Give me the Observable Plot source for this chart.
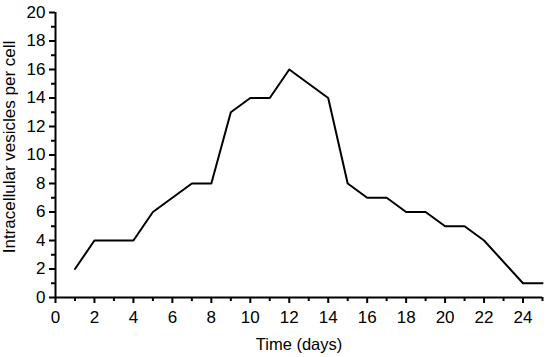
<!DOCTYPE html>
<html>
<head>
<meta charset="utf-8">
<script src="https://cdn.jsdelivr.net/npm/d3@7"></script>
<script src="https://cdn.jsdelivr.net/npm/@observablehq/plot@0.6"></script>
<style>
  html, body { margin: 0; padding: 0; background: #fff; }
  svg { font-family: "Liberation Sans", Arial, sans-serif; }
</style>
</head>
<body>
<div id="chart"></div>
<script>
const days = [1, 2, 4, 5, 7, 8, 9, 10, 11, 12, 14, 15, 16, 17, 18, 19, 20, 21, 22, 24, 25];
const vesicles = [2, 4, 4, 6, 8, 8, 13, 14, 14, 16, 14, 8, 7, 7, 6, 6, 5, 5, 4, 1, 1];
const xMajorTicks = [0, 2, 4, 6, 8, 10, 12, 14, 16, 18, 20, 22, 24];
const xMinorTicks = [1, 3, 5, 7, 9, 11, 13, 15, 17, 19, 21, 23, 25];
const yMajorTicks = [0, 2, 4, 6, 8, 10, 12, 14, 16, 18, 20];
const yMinorTicks = [1, 3, 5, 7, 9, 11, 13, 15, 17, 19];
const xTitle = "Time (days)";
const yTitle = "Intracellular vesicles per cell";

const data = days.map((d, i) => ({day: d, value: vesicles[i]}));

const chart = Plot.plot({
  width: 550,
  height: 357,
  marginLeft: 55,
  marginRight: 8,
  marginTop: 12,
  marginBottom: 60,
  style: {fontSize: "17px", fontFamily: "'Liberation Sans', Arial, sans-serif", color: "#000", background: "#fff"},
  x: {domain: [0, 25]},
  y: {domain: [0, 20]},
  marks: [
    Plot.axisX({ticks: xMajorTicks, tickSize: 6, tickPadding: 7, strokeWidth: 2, label: null}),
    Plot.axisX({ticks: xMinorTicks, tickSize: 4, strokeWidth: 2, text: null, label: null}),
    Plot.axisY({ticks: yMajorTicks, tickSize: 6, tickPadding: 4, strokeWidth: 2, label: null}),
    Plot.axisY({ticks: yMinorTicks, tickSize: 4, strokeWidth: 2, text: null, label: null}),
    Plot.ruleY([0], {strokeWidth: 2}),
    Plot.ruleX([0], {strokeWidth: 2}),
    Plot.line(data, {x: "day", y: "value", stroke: "#000", strokeWidth: 2}),
    Plot.text([xTitle], {frameAnchor: "bottom", text: d => d, lineAnchor: "middle", textAnchor: "middle", dy: 47.5, fontSize: 16.5, fill: "#000"}),
    Plot.text([yTitle], {frameAnchor: "left", text: d => d, rotate: -90, lineAnchor: "middle", textAnchor: "middle", dx: -46, dy: -8, fontSize: 17, fill: "#000", style: {letterSpacing: "0.5px"}})
  ]
});
document.getElementById("chart").appendChild(chart);
</script>
</body>
</html>
